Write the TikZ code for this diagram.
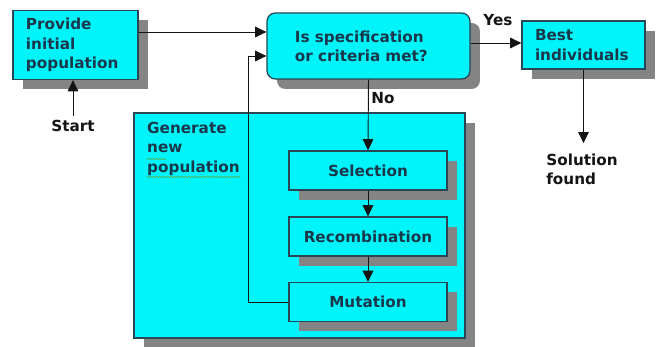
\documentclass[tikz,border=0pt]{standalone}
\usepackage{fontspec}
\setmainfont{DejaVu Sans}
\usetikzlibrary{arrows.meta,shadows,decorations.pathmorphing}
\definecolor{boxfill}{RGB}{0,245,250}
\definecolor{boxline}{RGB}{40,70,85}
\definecolor{txtcol}{RGB}{25,55,75}
\definecolor{lblcol}{RGB}{20,20,20}
\definecolor{shadowgray}{RGB}{132,132,132}
\definecolor{spellgreen}{RGB}{90,170,60}
\begin{document}
\begin{tikzpicture}[x=0.03cm,y=-0.03cm,
  font=\bfseries\fontsize{13}{16.5}\selectfont,
  box/.style={draw=boxline, line width=1.1pt, fill=boxfill, text=txtcol,
    drop shadow={shadow xshift=8.5pt, shadow yshift=-8.5pt, fill=shadowgray, opacity=1}},
  stepbox/.style={box, minimum width=4.74cm, minimum height=1.17cm, inner sep=0pt},
  lbl/.style={text=lblcol},
  arr/.style={draw=lblcol, line width=0.8pt, -{Triangle[length=9.5pt,width=9pt]}},
  wavy/.style={draw=spellgreen, line width=0.5pt, decorate, decoration={snake, amplitude=0.5pt, segment length=2.5pt}}
]
\useasboundingbox (0,0) rectangle (662,347);

\node[box, text width=2.97cm, inner xsep=0.39cm, inner ysep=0pt, minimum height=2.07cm, align=left] (prov) at (75.5,45) {Provide\\initial\\population};
\node[box, rounded corners=0.25cm, text width=4.41cm, inner xsep=0.84cm, inner ysep=0pt, minimum height=1.98cm, align=left] (dec) at (368.5,46) {Is specification\\or criteria met?};
\node[box, text width=2.91cm, inner xsep=0.39cm, inner ysep=0pt, minimum height=1.44cm, align=left] (best) at (583.5,45) {Best\\individuals};

\node[box, minimum width=9.93cm, minimum height=6.75cm, inner sep=0pt] (gen) at (299.5,225.5) {};
\node[text=txtcol, align=left, anchor=north west, inner sep=0pt] (gentext) at (147,122) {Generate\\new\\population};
\draw[wavy] (147,159) -- (166,159);
\draw[wavy] (147,177) -- (240,177);

\node[stepbox] (sel) at (368,170.5) {Selection};
\node[stepbox] (rec) at (368,236.5) {Recombination};
\node[stepbox] (mut) at (368,302) {Mutation};

\node[lbl] (start) at (73,126) {Start};
\node[lbl] (yes) at (498,20) {Yes};
\node[lbl] (no) at (383,98) {No};
\node[lbl, align=left] (sol) at (582,169.5) {Solution\\found};

\coordinate (y32) at (0,32);
\coordinate (y43) at (0,43);
\coordinate (fb) at (248,56);

\draw[arr] (prov.east |- y32) -- (dec.west |- y32);
\draw[arr] (mut.west) -| (fb) -- (dec.west |- fb);
\draw[arr] (dec.south) -- (sel.north);
\draw[arr] (sel.south) -- (rec.north);
\draw[arr] (rec.south) -- (mut.north);
\draw[arr] (dec.east |- y43) -- (best.west |- y43);
\draw[arr] (start.north) -- (start.north |- prov.south);
\draw[arr, shorten >=0.2cm] (best.south) -- (best.south |- sol.north);
\end{tikzpicture}
\end{document}
